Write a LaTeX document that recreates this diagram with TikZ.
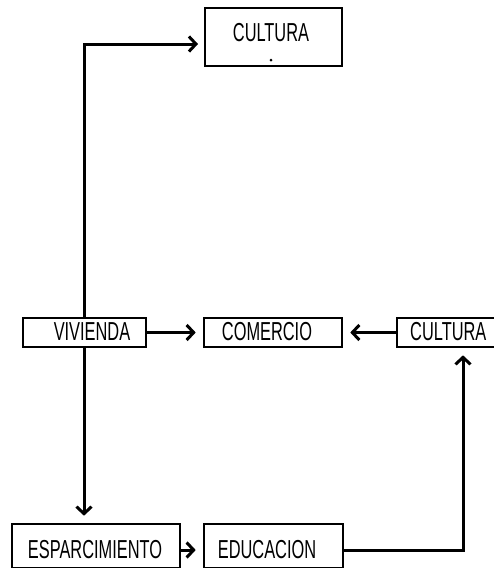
\documentclass[tikz,border=0pt]{standalone}
\usepackage{fontspec}
\setmainfont{Liberation Sans}[FakeStretch=0.63]
\usetikzlibrary{arrows.meta}
\begin{document}
\begin{tikzpicture}[x=1pt,y=-1pt,
  box/.style={draw, line width=2.6pt, inner sep=0pt},
  lbl/.style={font=\fontsize{26}{26}\selectfont, inner sep=0pt},
  conn/.style={line width=3pt, -{Straight Barb[length=7pt,width=15pt,line width=3pt]}, shorten >=7pt}]
\useasboundingbox (0,0) rectangle (493,568);
\node[box, minimum width=137pt, minimum height=58pt] (cult1) at (273.5,37) {};
\node[lbl] (cult1t) at (271,33) {CULTURA};
\fill (271,60) circle (1.5pt);
\node[box, minimum width=123pt, minimum height=29pt] (viv) at (84.5,332.5) {};
\node[lbl] (vivt) at (92,332) {VIVIENDA};
\node[box, minimum width=138pt, minimum height=29pt] (com) at (273,332.5) {};
\node[lbl] (comt) at (267,332) {COMERCIO};
\node[box, minimum width=110pt, minimum height=29pt] (cult2) at (452,332.5) {};
\node[lbl, anchor=west] (cult2t) at (410,332) {CULTURA};
\node[box, minimum width=168pt, minimum height=44pt] (esp) at (96,546) {};
\node[lbl] (espt) at (95,550) {ESPARCIMIENTO};
\node[box, minimum width=139pt, minimum height=44pt] (edu) at (273.5,546) {};
\node[lbl] (edut) at (267,550) {EDUCACION};
\coordinate (vtop) at (84,318);
\coordinate (corner1) at (84,44);
\coordinate (c1left) at (205,44);
\draw[conn] (vtop) -- (corner1) -- (c1left);
\draw[conn] (viv.east) -- (com.west);
\draw[conn] (cult2.west) -- (com.east);
\draw[conn] (viv.south -| vtop) -- (esp.north -| vtop);
\draw[conn] (esp.east |- edut) -- (edu.west |- edut);
\coordinate (corner2) at (463,550);
\draw[conn] (edu.east |- edut) -- (corner2) -- (cult2.south -| corner2);
\end{tikzpicture}
\end{document}
